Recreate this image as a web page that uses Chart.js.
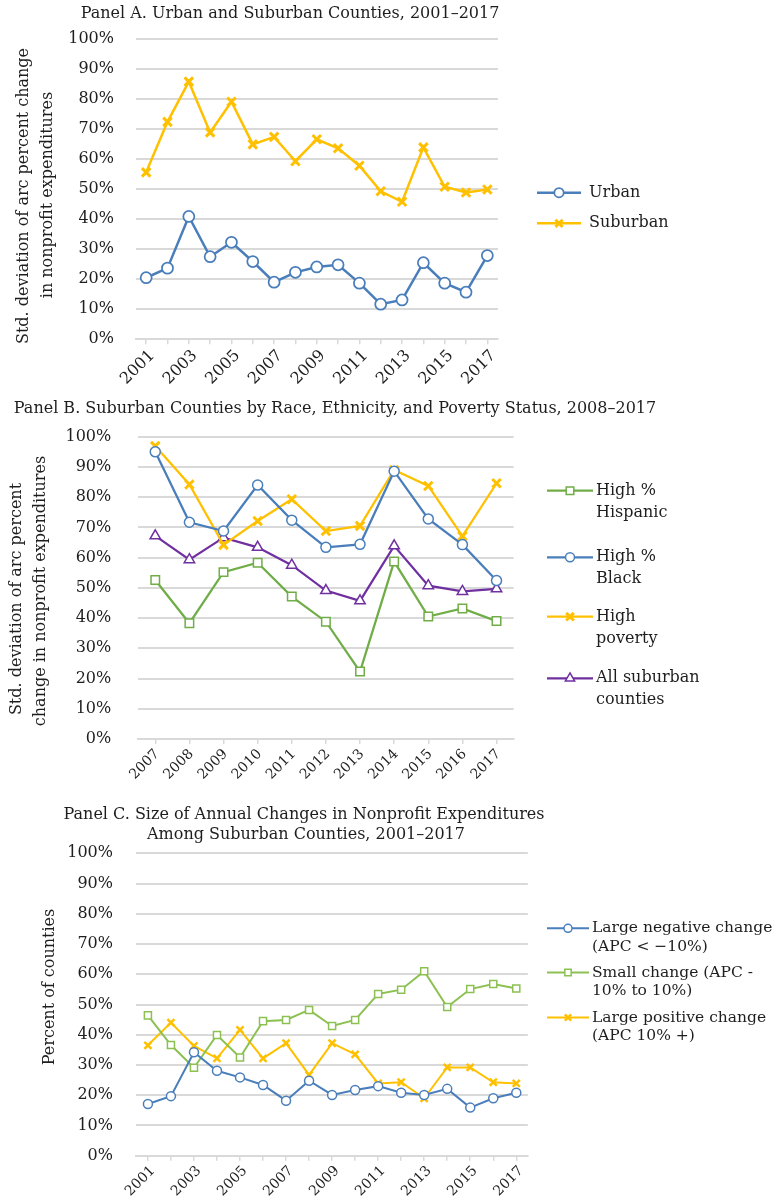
<!DOCTYPE html>
<html>
<head>
<meta charset="utf-8">
<title>Std. deviation of nonprofit expenditure changes</title>
<script src="https://cdn.jsdelivr.net/npm/chart.js@4.4.1/dist/chart.umd.min.js"></script>
<style>
  html, body { margin: 0; padding: 0; background: #fff; }
  .panel { position: absolute; left: 0; width: 773px; }
  #pa { top: 0; height: 390px; }
  #pb { top: 390px; height: 400px; }
  #pc { top: 790px; height: 411px; }
</style>
</head>
<body>
<div class="panel" id="pa"><canvas id="chartA" width="773" height="390"></canvas></div>
<div class="panel" id="pb"><canvas id="chartB" width="773" height="400"></canvas></div>
<div class="panel" id="pc"><canvas id="chartC" width="773" height="411"></canvas></div>
<script>
// Panel A
const yearsA = ["2001","2002","2003","2004","2005","2006","2007","2008","2009","2010","2011","2012","2013","2014","2015","2016","2017"];
const urban = [20.5, 23.7, 40.9, 27.5, 32.3, 25.9, 19.0, 22.3, 24.1, 24.8, 18.7, 11.7, 13.1, 25.5, 18.7, 15.7, 27.9];
const suburban = [55.6, 72.4, 85.8, 68.9, 79.1, 64.9, 67.4, 59.3, 66.6, 63.6, 57.8, 49.3, 45.8, 63.9, 50.8, 48.9, 49.9];

// Panel B
const yearsB = ["2007","2008","2009","2010","2011","2012","2013","2014","2015","2016","2017"];
const highHispanic = [52.6, 38.3, 55.2, 58.3, 47.1, 38.8, 22.3, 58.7, 40.5, 43.2, 39.0];
const highBlack = [95.0, 71.7, 68.8, 84.0, 72.4, 63.4, 64.4, 88.6, 72.8, 64.3, 52.4];
const highPoverty = [96.9, 84.2, 64.2, 72.1, 79.3, 68.8, 70.5, 89.0, 83.7, 67.1, 84.6];
const allSuburban = [67.2, 59.3, 66.6, 63.4, 57.5, 49.1, 45.7, 63.9, 50.7, 48.8, 49.7];

// Panel C
const yearsC = yearsA;
const largeNegative = [17.1, 19.7, 34.2, 28.1, 25.9, 23.4, 18.2, 24.8, 20.1, 21.7, 23.0, 20.8, 20.1, 22.1, 15.9, 19.0, 20.8];
const smallChange = [46.4, 36.6, 29.1, 39.9, 32.5, 44.5, 44.9, 48.2, 42.9, 44.9, 53.5, 54.9, 61.0, 49.2, 55.1, 56.8, 55.3];
const largePositive = [36.5, 44.0, 36.3, 32.2, 41.6, 32.2, 37.2, 26.7, 37.2, 33.5, 23.9, 24.3, 19.0, 29.2, 29.2, 24.3, 23.9];

const yTicks = [0, 10, 20, 30, 40, 50, 60, 70, 80, 90, 100];

const FONT = "'DejaVu Serif', serif";
const TEXT = "#1e1e1e";
const GRID = "#d9d9d9";
const BLUE = "#4a7ebb";
const GOLD = "#ffc000";
const GREEN = "#70ad47";
const PURPLE = "#7030a0";

function series(label, data, color, style, r, bw, lw) {
  return {
    label: label,
    data: data,
    borderColor: color,
    backgroundColor: color,
    borderWidth: lw,
    pointStyle: style,
    pointRadius: r,
    pointHoverRadius: r,
    pointBorderWidth: bw,
    pointBorderColor: color,
    pointBackgroundColor: "#fff",
    tension: 0
  };
}

function decor(opts) {
  return {
    id: "decor",
    afterDraw(chart) {
      const ctx = chart.ctx;
      ctx.save();
      ctx.fillStyle = TEXT;
      ctx.textBaseline = "middle";
      ctx.textAlign = "center";
      ctx.font = opts.titleFont;
      opts.title.forEach(t => ctx.fillText(t[0], t[1], t[2]));

      ctx.font = opts.axisFont;
      opts.yTitle.forEach(t => {
        ctx.save();
        ctx.translate(t[1], t[2]);
        ctx.rotate(-Math.PI / 2);
        ctx.fillText(t[0], 0, 0);
        ctx.restore();
      });

      // legend
      const lg = opts.legend;
      ctx.font = lg.font;
      ctx.textAlign = "left";
      chart.data.datasets.forEach((ds, i) => {
        const y = lg.rows[i];
        ctx.strokeStyle = ds.borderColor;
        ctx.lineWidth = ds.borderWidth;
        ctx.beginPath();
        ctx.moveTo(lg.x1, y);
        ctx.lineTo(lg.x2, y);
        ctx.stroke();
        ctx.fillStyle = ds.pointBackgroundColor;
        ctx.lineWidth = ds.pointBorderWidth;
        Chart.helpers.drawPoint(ctx, {
          pointStyle: ds.pointStyle,
          radius: ds.pointRadius * lg.scale,
          borderWidth: ds.pointBorderWidth,
          rotation: 0
        }, (lg.x1 + lg.x2) / 2, y);
        ctx.fillStyle = TEXT;
        lg.text[i].forEach((line, k) => ctx.fillText(line, lg.tx, y + k * lg.gap));
      });
      ctx.restore();
    }
  };
}

function makeChart(id, labels, datasets, box, opts) {
  return new Chart(document.getElementById(id), {
    type: "line",
    data: { labels: labels, datasets: datasets },
    options: {
      responsive: false,
      animation: false,
      layout: { padding: { left: 0, top: box.top, right: box.right, bottom: 0 } },
      plugins: { legend: { display: false }, tooltip: { enabled: false }, title: { display: false } },
      scales: {
        x: {
          offset: true,
          grid: { drawOnChartArea: false, offset: false, color: GRID, lineWidth: 1.5, tickLength: 5 },
          border: { color: GRID, width: 2 },
          ticks: {
            autoSkip: false,
            maxRotation: 45,
            minRotation: 45,
            padding: 2,
            labelOffset: box.xShift,
            color: TEXT,
            font: { family: FONT, size: box.xFont },
            callback: function (v, i) { return i % box.every === 0 ? this.getLabelForValue(v) : ""; }
          },
          afterFit: s => { s.height = box.xHeight; }
        },
        y: {
          min: 0,
          max: 100,
          afterBuildTicks: s => { s.ticks = yTicks.map(v => ({ value: v })); },
          grid: { color: GRID, lineWidth: 2, drawTicks: false },
          border: { display: false },
          ticks: {
            padding: box.yPad,
            color: TEXT,
            font: { family: FONT, size: 16 },
            callback: v => v + "%"
          },
          afterFit: s => { s.width = box.yWidth; }
        }
      }
    },
    plugins: [decor(opts)]
  });
}

makeChart("chartA", yearsA, [
  series("Urban", urban, BLUE, "circle", 5.5, 1.75, 2.5),
  series("Suburban", suburban, GOLD, "crossRot", 6, 3, 2.5)
], { top: 39, right: 275, yWidth: 135.5, yPad: 21.5, xHeight: 50.7, xFont: 16, xShift: 6, every: 2 }, {
  titleFont: "16px " + FONT,
  title: [["Panel A. Urban and Suburban Counties, 2001\u20132017", 290, 14]],
  axisFont: "16px " + FONT,
  yTitle: [["Std. deviation of arc percent change", 24, 196], ["in nonprofit expenditures", 48, 195]],
  legend: { font: "16px " + FONT, x1: 537, x2: 581, tx: 589, rows: [192.7, 223.3], gap: 0, scale: 0.85,
            text: [["Urban"], ["Suburban"]] }
});

makeChart("chartB", yearsB, [
  series("High % Hispanic", highHispanic, GREEN, "rect", 6, 1.5, 2.25),
  series("High % Black", highBlack, BLUE, "circle", 5, 1.5, 2.25),
  series("High poverty", highPoverty, GOLD, "crossRot", 6, 3, 2.25),
  series("All suburban counties", allSuburban, PURPLE, "triangle", 6, 1.5, 2.25)
], { top: 46.7, right: 259.4, yWidth: 138.2, yPad: 27, xHeight: 51, xFont: 14, xShift: 2, every: 1 }, {
  titleFont: "16px " + FONT,
  title: [["Panel B. Suburban Counties by Race, Ethnicity, and Poverty Status, 2008\u20132017", 335, 19]],
  axisFont: "16px " + FONT,
  yTitle: [["Std. deviation of arc percent", 17, 209], ["change in nonprofit expenditures", 41, 201]],
  legend: { font: "16px " + FONT, x1: 547, x2: 593, tx: 596, rows: [100.7, 167.3, 226.7, 288.3], gap: 22, scale: 0.9,
            text: [["High %", "Hispanic"], ["High %", "Black"], ["High", "poverty"], ["All suburban", "counties"]] }
});

makeChart("chartC", yearsC, [
  series("Large negative change (APC < \u221210%)", largeNegative, BLUE, "circle", 4.5, 1.5, 2),
  series("Small change (APC -10% to 10%)", smallChange, "#8cc152", "rect", 5, 1.5, 2),
  series("Large positive change (APC 10% +)", largePositive, GOLD, "crossRot", 5, 2.5, 2)
], { top: 63.3, right: 245.2, yWidth: 136.4, yPad: 23.4, xHeight: 45.3, xFont: 14, xShift: 5, every: 2 }, {
  titleFont: "16px " + FONT,
  title: [["Panel C. Size of Annual Changes in Nonprofit Expenditures", 304, 25], ["Among Suburban Counties, 2001\u20132017", 306, 45]],
  axisFont: "16px " + FONT,
  yTitle: [["Percent of counties", 50, 197]],
  legend: { font: "15.5px " + FONT, x1: 547, x2: 589, tx: 592, rows: [138.3, 182.5, 227.5], gap: 18.4, scale: 0.9,
            text: [["Large negative change", "(APC < \u221210%)"], ["Small change (APC -", "10% to 10%)"], ["Large positive change", "(APC 10% +)"]] }
});
</script>
</body>
</html>
